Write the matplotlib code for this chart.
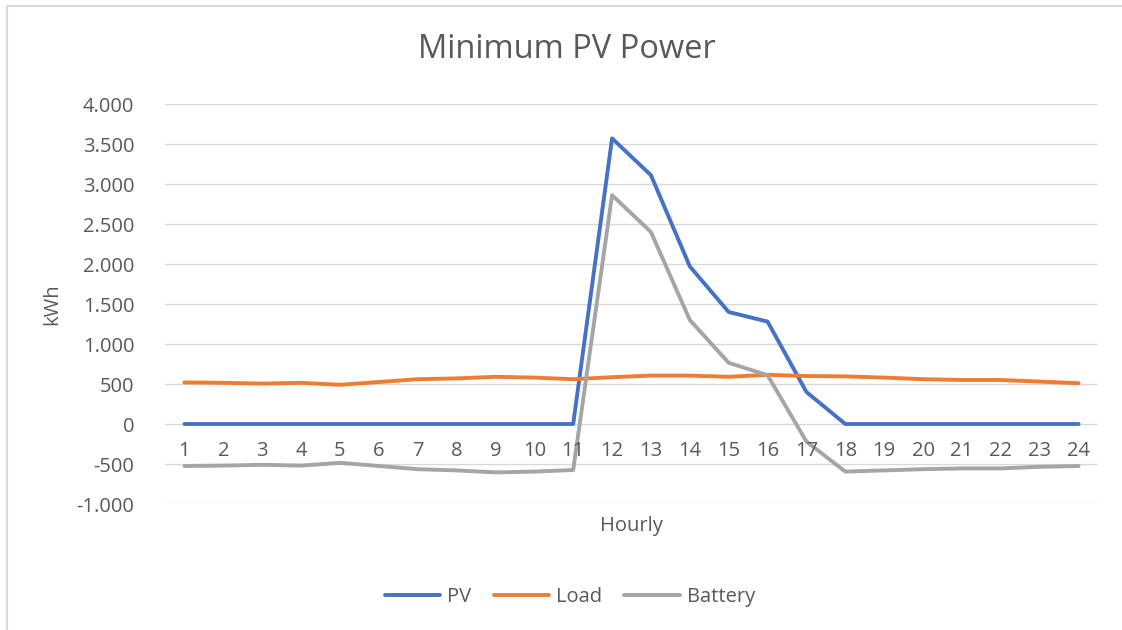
import matplotlib
matplotlib.use("Agg")
import matplotlib.pyplot as plt
from matplotlib.patches import Rectangle
from matplotlib.ticker import FuncFormatter

plt.rcParams['font.family'] = ['Open Sans', 'DejaVu Sans']

hours = [str(h) for h in range(1, 25)]
pv = [0, 0, 0, 0, 0, 0, 0, 0, 0, 0, 0, 3570, 3110, 1970, 1400, 1280, 400, 0, 0, 0, 0, 0, 0, 0]
load = [520, 515, 505, 515, 490, 525, 560, 570, 590, 580, 560, 585, 605, 605, 590, 615, 600, 595, 580, 560, 550, 550, 530, 510]
battery = [-525, -520, -510, -520, -485, -525, -565, -580, -605, -595, -575, 2860, 2400, 1300, 765, 610, -220, -595, -580, -565, -555, -555, -535, -525]

series_names = ["PV", "Load", "Battery"]
colors = ["#4472C4", "#ED7D31", "#A5A5A5"]
text_color = "#595959"

fig = plt.figure(figsize=(11.22, 6.3), dpi=100)
ax = fig.add_axes([165/1122, 1-504/630, (1098-165)/1122, 400/630])

x = list(range(len(hours)))
for name, vals, c in zip(series_names, [pv, load, battery], colors):
    ax.plot(x, vals, color=c, lw=2.8, solid_capstyle='round', solid_joinstyle='round', label=name, zorder=3)

ax.set_xlim(-0.5, len(hours) - 0.5)
ax.set_ylim(-1000, 4000)
ax.set_yticks(range(-1000, 4001, 500))
ax.yaxis.set_major_formatter(FuncFormatter(lambda v, p: f"{int(v):,}".replace(",", ".")))
ax.grid(axis='y', color='#D9D9D9', lw=1)
ax.set_axisbelow(True)
for s in ax.spines.values():
    s.set_visible(False)
ax.tick_params(axis='y', length=0, labelsize=14.5, labelcolor=text_color, pad=22)
ax.set_xticks([])

for xi, lab in zip(x, hours):
    ax.annotate(lab, (xi, 0), xytext=(0, -12), textcoords='offset points',
                ha='center', va='top', fontsize=14.5, color=text_color)

ax.set_ylabel("kWh", fontsize=14.5, color=text_color, labelpad=10)
fig.text(631/1122, 1-526/630, "Hourly", ha='center', va='center', fontsize=14.5, color=text_color)
fig.text(567/1122, 1-50/630, "Minimum PV Power", ha='center', va='center', fontsize=23.5, color=text_color)

fig.legend(loc='center', bbox_to_anchor=(570/1122, 1-597/630), ncol=3, frameon=False,
           fontsize=14.5, labelcolor=text_color, handlelength=2.75, columnspacing=1.1, handletextpad=0.35)

fig.patches.append(Rectangle((7/1122, -0.1), 1.2, 1-6/630+0.1, transform=fig.transFigure,
                             fill=False, edgecolor='#D9D9D9', lw=1.5))

fig.savefig("out.png", dpi=100)
